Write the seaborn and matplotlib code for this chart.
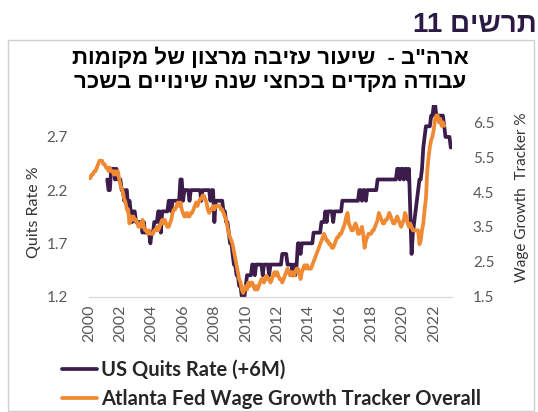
import matplotlib
matplotlib.use("Agg")
import matplotlib.pyplot as plt
import matplotlib.dates as mdates
from matplotlib.patches import Rectangle
import seaborn as sns
import pandas as pd

# data (monthly)
# US quits rate, shifted +6 months, Mar 2001 .. Feb 2023
quits_rate = [
    2.3, 2.2, 2.2, 2.4, 2.4, 2.4, 2.3, 2.4, 2.3, 2.3,                     # 2001 (Mar-Dec)
    2.3, 2.2, 2.2, 2.1, 2.2, 2.2, 2.0, 2.1, 2.0, 1.9, 2.0, 2.0,           # 2002
    1.9, 1.9, 1.9, 1.9, 1.9, 1.8, 1.9, 1.8, 1.8, 1.8, 1.8, 1.7,           # 2003
    1.8, 1.8, 1.9, 1.9, 1.9, 2.0, 2.0, 1.8, 2.0, 2.0, 2.0, 2.0,           # 2004
    2.0, 2.1, 2.1, 2.0, 2.1, 2.1, 2.1, 2.1, 2.1, 2.1, 2.3, 2.3,           # 2005
    2.1, 2.2, 2.2, 2.2, 2.2, 2.1, 2.2, 2.2, 2.2, 2.2, 2.2, 2.2,           # 2006
    2.2, 2.2, 2.1, 2.2, 2.2, 2.2, 2.2, 2.2, 2.2, 2.1, 2.2, 2.2,           # 2007
    1.9, 2.1, 2.1, 2.1, 2.1, 2.1, 2.1, 2.0, 2.0, 1.9, 1.9, 1.8,           # 2008
    1.7, 1.7, 1.6, 1.5, 1.5, 1.4, 1.4, 1.3, 1.3, 1.2, 1.2, 1.2,           # 2009
    1.3, 1.4, 1.4, 1.4, 1.4, 1.5, 1.5, 1.4, 1.5, 1.5, 1.5, 1.5,           # 2010
    1.5, 1.4, 1.5, 1.5, 1.5, 1.5, 1.4, 1.5, 1.5, 1.5, 1.5, 1.5,           # 2011
    1.5, 1.5, 1.5, 1.5, 1.6, 1.6, 1.6, 1.6, 1.5, 1.5, 1.5, 1.5,           # 2012
    1.4, 1.5, 1.4, 1.5, 1.7, 1.7, 1.6, 1.7, 1.7, 1.7, 1.7, 1.7,           # 2013
    1.7, 1.7, 1.7, 1.7, 1.8, 1.8, 1.8, 1.8, 1.8, 1.8, 1.9, 1.9,           # 2014
    1.9, 2.0, 1.9, 2.0, 2.0, 2.0, 2.0, 1.9, 2.0, 2.0, 2.0, 2.0,           # 2015
    2.0, 2.0, 2.1, 2.1, 2.1, 2.1, 2.1, 2.1, 2.1, 2.1, 2.1, 2.1,           # 2016
    2.1, 2.1, 2.1, 2.2, 2.2, 2.1, 2.2, 2.2, 2.1, 2.2, 2.2, 2.2,           # 2017
    2.2, 2.2, 2.2, 2.2, 2.2, 2.3, 2.3, 2.3, 2.3, 2.3, 2.3, 2.3,           # 2018
    2.3, 2.3, 2.3, 2.3, 2.3, 2.3, 2.3, 2.3, 2.4, 2.4, 2.3, 2.4,           # 2019
    2.4, 2.3, 2.4, 2.4, 2.3, 2.4, 2.0, 1.6, 1.8, 1.9, 2.0, 2.1,           # 2020
    2.2, 2.3, 2.3, 2.4, 2.6, 2.7, 2.8, 2.8, 2.8, 2.8, 2.9, 2.9,           # 2021
    3.0, 3.0, 2.9, 2.9, 2.9, 2.9, 2.9, 2.9, 2.8, 2.7, 2.7, 2.7,           # 2022
    2.7, 2.6,                                                             # 2023 (Jan-Feb)
]

# Atlanta Fed wage growth tracker, Jan 2000 .. Sep 2022
wage_growth = [
    4.9, 4.9, 5.0, 5.0, 5.1, 5.1, 5.2, 5.3, 5.4, 5.4, 5.4, 5.3,           # 2000
    5.3, 5.2, 5.2, 5.1, 5.2, 5.1, 5.1, 5.0, 5.1, 5.0, 5.1, 4.9,           # 2001
    4.7, 4.6, 4.5, 4.3, 4.2, 4.0, 4.0, 3.6, 3.8, 3.7, 3.8, 3.7,           # 2002
    3.7, 3.6, 3.5, 3.6, 3.5, 3.7, 3.5, 3.4, 3.4, 3.3, 3.4, 3.3,           # 2003
    3.3, 3.3, 3.4, 3.4, 3.5, 3.4, 3.5, 3.6, 3.7, 3.6, 3.7, 3.6,           # 2004
    3.5, 3.5, 3.6, 3.7, 3.9, 4.0, 4.0, 4.1, 4.2, 4.1, 4.2, 4.0,           # 2005
    3.9, 3.8, 3.8, 3.9, 3.8, 3.8, 3.9, 3.9, 4.0, 4.1, 4.2, 4.1,           # 2006
    4.2, 4.3, 4.3, 4.4, 4.4, 4.3, 4.2, 4.0, 3.9, 4.0, 4.0, 4.1,           # 2007
    4.0, 4.1, 4.1, 4.1, 4.1, 4.0, 4.0, 3.9, 3.8, 3.7, 3.5, 3.3,           # 2008
    3.2, 3.1, 3.0, 2.8, 2.6, 2.4, 2.2, 2.0, 1.9, 1.7, 1.6, 1.7,           # 2009
    1.8, 1.7, 1.9, 1.8, 1.9, 1.9, 1.8, 1.7, 1.8, 1.7, 1.8, 1.9,           # 2010
    2.0, 2.0, 1.9, 2.0, 2.1, 2.0, 2.0, 1.9, 2.0, 2.1, 2.2, 2.1,           # 2011
    2.2, 2.1, 2.0, 2.0, 1.9, 2.0, 2.1, 2.2, 2.3, 2.2, 2.1, 2.2,           # 2012
    2.2, 2.1, 2.2, 2.3, 2.3, 2.2, 2.0, 2.2, 2.3, 2.4, 2.3, 2.4,           # 2013
    2.3, 2.3, 2.3, 2.4, 2.5, 2.6, 2.7, 2.8, 2.9, 3.0, 3.1, 3.2,           # 2014
    3.3, 3.2, 3.1, 3.1, 3.0, 3.0, 2.9, 2.9, 3.0, 3.1, 3.2, 3.2,           # 2015
    3.3, 3.3, 3.4, 3.5, 3.6, 3.8, 3.9, 3.6, 3.5, 3.4, 3.4, 3.5,           # 2016
    3.6, 3.5, 3.3, 3.3, 3.4, 3.5, 3.3, 2.9, 3.1, 3.2, 3.3, 3.3,           # 2017
    3.3, 3.4, 3.4, 3.5, 3.6, 3.7, 3.9, 3.8, 3.7, 3.6, 3.6, 3.7,           # 2018
    3.7, 3.8, 3.9, 3.8, 3.7, 3.6, 3.6, 3.7, 3.8, 3.7, 3.6, 3.5,           # 2019
    3.6, 3.7, 3.9, 3.8, 3.6, 3.5, 3.6, 3.5, 3.4, 3.4, 3.4, 3.4,           # 2020
    3.4, 3.0, 3.1, 3.4, 3.6, 4.0, 4.3, 5.1, 5.5, 5.8, 6.0, 6.1,           # 2021
    6.3, 6.6, 6.7, 6.7, 6.5, 6.6, 6.4, 6.5, 6.4,                          # 2022 (Jan-Sep)
]

quits_label = "US Quits Rate (+6M)"
wage_label = "Atlanta Fed Wage Growth Tracker Overall"
left_ticks = [1.2, 1.7, 2.2, 2.7]
right_ticks = [1.5, 2.5, 3.5, 4.5, 5.5, 6.5]

quits_df = pd.DataFrame({
    "date": pd.date_range("2001-03-01", periods=len(quits_rate), freq="MS"),
    "value": quits_rate,
})
wage_df = pd.DataFrame({
    "date": pd.date_range("2000-01-01", periods=len(wage_growth), freq="MS"),
    "value": wage_growth,
})


def rtl(text):
    # matplotlib has no bidi support: flip word order and hebrew words by hand
    words = text.split(" ")[::-1]
    return " ".join(w if w.isdigit() else w[::-1] for w in words)


sns.set_style("white")
heb_font = ["Liberation Sans", "DejaVu Sans"]
plt.rcParams["font.family"] = ["Lato", "DejaVu Sans"]

purple = "#3b1c4b"
orange = "#ef8a33"
tick_grey = "#595959"

fig = plt.figure(figsize=(5.38, 4.12), dpi=100)
W, H = 538, 412
ax = fig.add_axes([89 / W, 1 - 296.5 / H, (452 - 89) / W, (296.5 - 105) / H])
ax2 = ax.twinx()

sns.lineplot(data=quits_df, x="date", y="value", ax=ax, color=purple,
             linewidth=2.7, label=quits_label, legend=False)
sns.lineplot(data=wage_df, x="date", y="value", ax=ax2, color=orange,
             linewidth=2.7, label=wage_label, legend=False)

ax.set_xlim(pd.Timestamp("2000-01-01"), pd.Timestamp("2023-03-01"))
ax.set_ylim(1.2, 3.0)
ax2.set_ylim(1.5, 7.0)
ax.set_yticks(left_ticks)
ax2.set_yticks(right_ticks)
ax.set_yticklabels([f"{v:.1f}" for v in left_ticks])
ax2.set_yticklabels([f"{v:.1f}" for v in right_ticks])

ax.xaxis.set_major_locator(mdates.YearLocator(2))
ax.xaxis.set_major_formatter(mdates.DateFormatter("%Y"))
ax.set_xlabel("")

for a in (ax, ax2):
    for s in a.spines.values():
        s.set_visible(False)
ax.spines["bottom"].set_visible(True)
ax.spines["bottom"].set_color("#d9d9d9")
ax.spines["bottom"].set_linewidth(0.9)

ax.tick_params(axis="x", labelrotation=90, labelsize=11.5, colors=tick_grey,
               length=3, width=0.8, pad=3, direction="out")
ax.tick_params(axis="x", color="#d9d9d9")
ax.tick_params(axis="y", labelsize=11, labelcolor=tick_grey, length=0, pad=15)
ax2.tick_params(axis="y", labelsize=11, labelcolor=tick_grey, length=0, pad=15)

ax.set_ylabel("Quits Rate %", fontsize=11.5, color="#333333")
ax2.set_ylabel("Wage Growth  Tracker %", fontsize=11, color="#333333")
ax.yaxis.set_label_coords((41 - 89) / 363, 0.44)
ax2.yaxis.set_label_coords((515 - 89) / 363, 0.52)

# wage line above quits line
ax.set_zorder(ax2.get_zorder() - 1)
ax.patch.set_visible(False)

# frame around the chart
fig.patches.append(Rectangle((8 / W, 1 / H), (534 - 8) / W, (411 - 40) / H,
                             transform=fig.transFigure, fill=False,
                             edgecolor="#d0d0d0", linewidth=1.0))

fig.text(537 / W, 1 - 25 / H, rtl("תרשים 11"), ha="right", va="center",
         fontsize=20, fontweight="bold", color="#2b1b44", family=heb_font)
fig.text(270 / W, 1 - 58 / H, rtl('ארה"ב -  שיעור עזיבה מרצון של מקומות'),
         ha="center", va="center", fontsize=16, fontweight="bold",
         color="black", family=heb_font)
fig.text(270 / W, 1 - 83 / H, rtl("עבודה מקדים בכחצי שנה שינויים בשכר"),
         ha="center", va="center", fontsize=16, fontweight="bold",
         color="black", family=heb_font)

handles = ax.get_lines()[:1] + ax2.get_lines()[:1]
fig.legend(handles, [quits_label, wage_label], loc="upper left",
           bbox_to_anchor=(62 / W, 1 - 360 / H), frameon=False,
           prop={"weight": "bold", "size": 14.5}, handlelength=1.75,
           handletextpad=0.2, labelspacing=0.45, borderpad=0, borderaxespad=0)

fig.savefig("out.png", dpi=100)
